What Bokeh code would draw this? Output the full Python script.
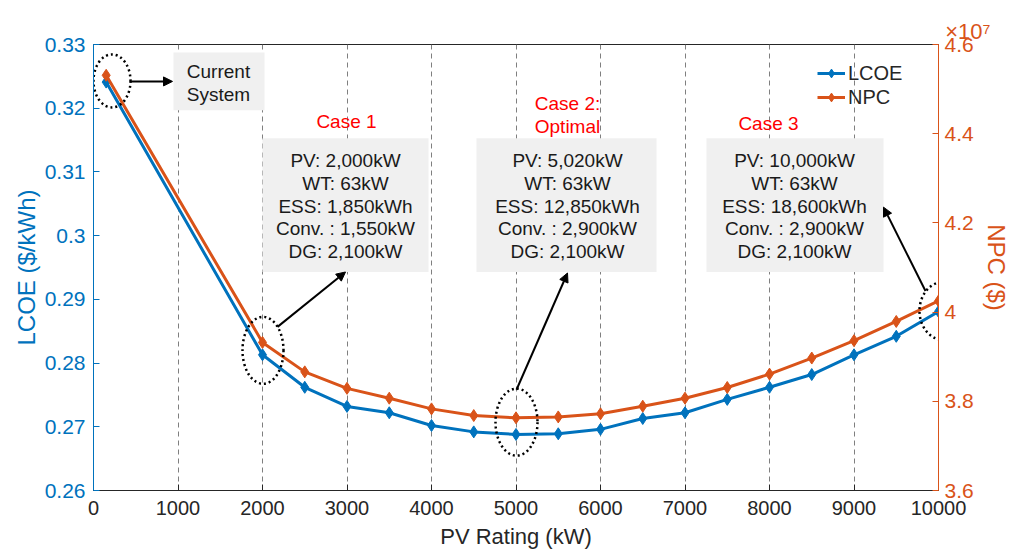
from bokeh.plotting import figure
from bokeh.models import (Range1d, LinearAxis, CustomJSTickFormatter, Label, BoxAnnotation,
                          Arrow, NormalHead, Legend, LegendItem, FixedTicker, Title)
from bokeh.embed import file_html
from bokeh.resources import INLINE

# ---------------- data ----------------
pv_rating = [150, 2000, 2500, 3000, 3500, 4000, 4500, 5000, 5500, 6000,
             6500, 7000, 7500, 8000, 8500, 9000, 9500, 10000]
lcoe = [0.3241, 0.2813, 0.2762, 0.2732, 0.2722, 0.2702, 0.2692, 0.2688, 0.2689, 0.2696,
        0.2713, 0.2722, 0.2743, 0.2762, 0.2782, 0.2813, 0.2842, 0.2881]
npc = [4.531e7, 3.932e7, 3.866e7, 3.829e7, 3.807e7, 3.783e7, 3.768e7, 3.763e7, 3.765e7, 3.772e7,
       3.789e7, 3.807e7, 3.831e7, 3.861e7, 3.897e7, 3.936e7, 3.979e7, 4.025e7]

x_ticks = [0, 1000, 2000, 3000, 4000, 5000, 6000, 7000, 8000, 9000, 10000]
lcoe_ticks = [0.26, 0.27, 0.28, 0.29, 0.30, 0.31, 0.32, 0.33]
npc_ticks = [3.6e7, 3.8e7, 4.0e7, 4.2e7, 4.4e7, 4.6e7]

case1_lines = ["PV: 2,000kW", "WT: 63kW", "ESS: 1,850kWh", "Conv. : 1,550kW", "DG: 2,100kW"]
case2_lines = ["PV: 5,020kW", "WT: 63kW", "ESS: 12,850kWh", "Conv. : 2,900kW", "DG: 2,100kW"]
case3_lines = ["PV: 10,000kW", "WT: 63kW", "ESS: 18,600kWh", "Conv. : 2,900kW", "DG: 2,100kW"]

BLUE = "#0072BD"
ORANGE = "#D95319"
DARK = "#262626"
FONT = "Liberation Sans"

# frame geometry (pixels)
FL, FT, FW, FH = 93, 44, 845, 447
W, H = 1020, 551

def X(px):
    return (px - FL) / FW * 10000

def Y(py):
    return 0.33 - (py - FT) / FH * 0.07

p = figure(width=W, height=H, output_backend="svg", toolbar_location=None,
           x_range=Range1d(0, 10000), y_range=Range1d(0.26, 0.33),
           min_border_left=FL, min_border_right=W - FL - FW,
           min_border_top=FT, min_border_bottom=H - FT - FH,
           background_fill_color="white", border_fill_color="white")
p.extra_y_ranges = {"npc": Range1d(3.6e7, 4.6e7)}
p.outline_line_color = DARK
p.outline_line_width = 1

# grid
p.xgrid.ticker = FixedTicker(ticks=x_ticks)
p.xgrid.grid_line_color = "#7f7f7f"
p.xgrid.grid_line_dash = "5 4"
p.xgrid.grid_line_width = 1
p.ygrid.grid_line_color = None

# bottom axis
xa = p.xaxis[0]
xa.ticker = FixedTicker(ticks=x_ticks)
xa.axis_label = "PV Rating (kW)"
xa.axis_label_text_font = FONT
xa.axis_label_text_font_size = "22px"
xa.axis_label_text_font_style = "normal"
xa.axis_label_text_color = DARK
xa.axis_label_standoff = 6
xa.major_label_text_font = FONT
xa.major_label_text_font_size = "20px"
xa.major_label_text_color = DARK
xa.major_label_standoff = 10
xa.axis_line_color = DARK
xa.major_tick_line_color = DARK
xa.major_tick_in = 6
xa.major_tick_out = 0
xa.minor_tick_line_color = None

# left axis
ya = p.yaxis[0]
ya.ticker = FixedTicker(ticks=lcoe_ticks)
ya.formatter = CustomJSTickFormatter(code="return String(parseFloat(tick.toFixed(2)));")
ya.axis_label = "LCOE ($/kWh)"
ya.axis_label_text_font = FONT
ya.axis_label_text_font_size = "24px"
ya.axis_label_text_font_style = "normal"
ya.axis_label_text_color = BLUE
ya.axis_label_standoff = 2
ya.major_label_text_font = FONT
ya.major_label_text_font_size = "21px"
ya.major_label_text_color = BLUE
ya.major_label_standoff = 8
ya.axis_line_color = BLUE
ya.major_tick_line_color = BLUE
ya.major_tick_in = 6
ya.major_tick_out = 0
ya.minor_tick_line_color = None

# right axis
ra = LinearAxis(y_range_name="npc", ticker=FixedTicker(ticks=npc_ticks),
                formatter=CustomJSTickFormatter(code="return String(parseFloat((tick/1e7).toFixed(1)));"))
ra.axis_label = "NPC ($)"
ra.axis_label_text_font = FONT
ra.axis_label_text_font_size = "24px"
ra.axis_label_text_font_style = "normal"
ra.axis_label_text_color = ORANGE
ra.axis_label_standoff = 6
ra.major_label_text_font = FONT
ra.major_label_text_font_size = "21px"
ra.major_label_text_color = ORANGE
ra.major_label_standoff = 6
ra.axis_line_color = ORANGE
ra.major_tick_line_color = ORANGE
ra.major_tick_in = 6
ra.major_tick_out = 0
ra.minor_tick_line_color = None
p.add_layout(ra, "right")

# x10^7 multiplier above the right axis
mult = Title(text="\u00d710\u2077", align="right", offset=-52, standoff=2,
             text_font=FONT, text_font_size="22px", text_font_style="normal", text_color=ORANGE)
p.add_layout(mult, "above")

# grey boxes
for (l, r, t, b) in [(173, 264, 52, 110), (262, 428, 138, 272), (476, 656, 138, 272), (706, 883, 138, 272)]:
    p.add_layout(BoxAnnotation(left=X(l), right=X(r), top=Y(t), bottom=Y(b),
                               fill_color="#f0f0f0", fill_alpha=1.0, line_color=None, level="underlay"))

# series
l1 = p.line(pv_rating, lcoe, line_color=BLUE, line_width=3)
s1 = p.scatter(pv_rating, lcoe, marker="diamond", size=12, fill_color=BLUE, line_color=BLUE)
l2 = p.line(pv_rating, npc, line_color=ORANGE, line_width=3, y_range_name="npc")
s2 = p.scatter(pv_rating, npc, marker="diamond", size=12, fill_color=ORANGE, line_color=ORANGE,
               y_range_name="npc")

# dotted ellipses
ell_px = [(111.5, 80.5, 37, 53), (262.5, 350.5, 41, 67), (516, 422.5, 42, 67), (943, 311, 48, 58)]
p.ellipse(x=[X(e[0]) for e in ell_px], y=[Y(e[1]) for e in ell_px],
          width=[e[2] for e in ell_px], height=[e[3] for e in ell_px],
          width_units="screen", height_units="screen",
          fill_color=None, line_color="black", line_width=2.5, line_dash="2 3")

# arrows
for (x0, y0, x1, y1) in [(130, 81, 172, 81), (277, 327, 345, 272), (516, 390, 567, 273), (925, 291, 883, 207)]:
    p.add_layout(Arrow(end=NormalHead(size=9, fill_color="black", line_color="black", line_width=1),
                       x_start=X(x0), y_start=Y(y0), x_end=X(x1), y_end=Y(y1),
                       line_color="black", line_width=2))

def add_text(txt, px, py, color="#1a1a1a", size="19px", align="center"):
    p.add_layout(Label(x=X(px), y=Y(py), text=txt, text_align=align, text_baseline="middle",
                       text_font=FONT, text_font_size=size, text_color=color))

add_text("Current", 218, 71)
add_text("System", 218, 94)
line_y = [160, 183, 206, 228, 251]
for cx, lines in [(345, case1_lines), (567, case2_lines), (794, case3_lines)]:
    for ly, t in zip(line_y, lines):
        add_text(t, cx, ly)

add_text("Case 1", 346, 121, color="#ff0000")
add_text("Case 2:", 567, 103, color="#ff0000")
add_text("Optimal", 567, 126, color="#ff0000")
add_text("Case 3", 768, 123, color="#ff0000")

# legend
legend = Legend(items=[LegendItem(label="LCOE", renderers=[l1, s1]),
                       LegendItem(label="NPC", renderers=[l2, s2])],
                location=(724, 381), background_fill_alpha=0, border_line_color=None,
                label_text_font=FONT, label_text_font_size="20px", label_text_color=DARK,
                glyph_width=28, glyph_height=22, label_height=24, spacing=0, padding=0,
                margin=0, label_standoff=3)
p.add_layout(legend)

open("out.html", "w").write(file_html(p, INLINE))
